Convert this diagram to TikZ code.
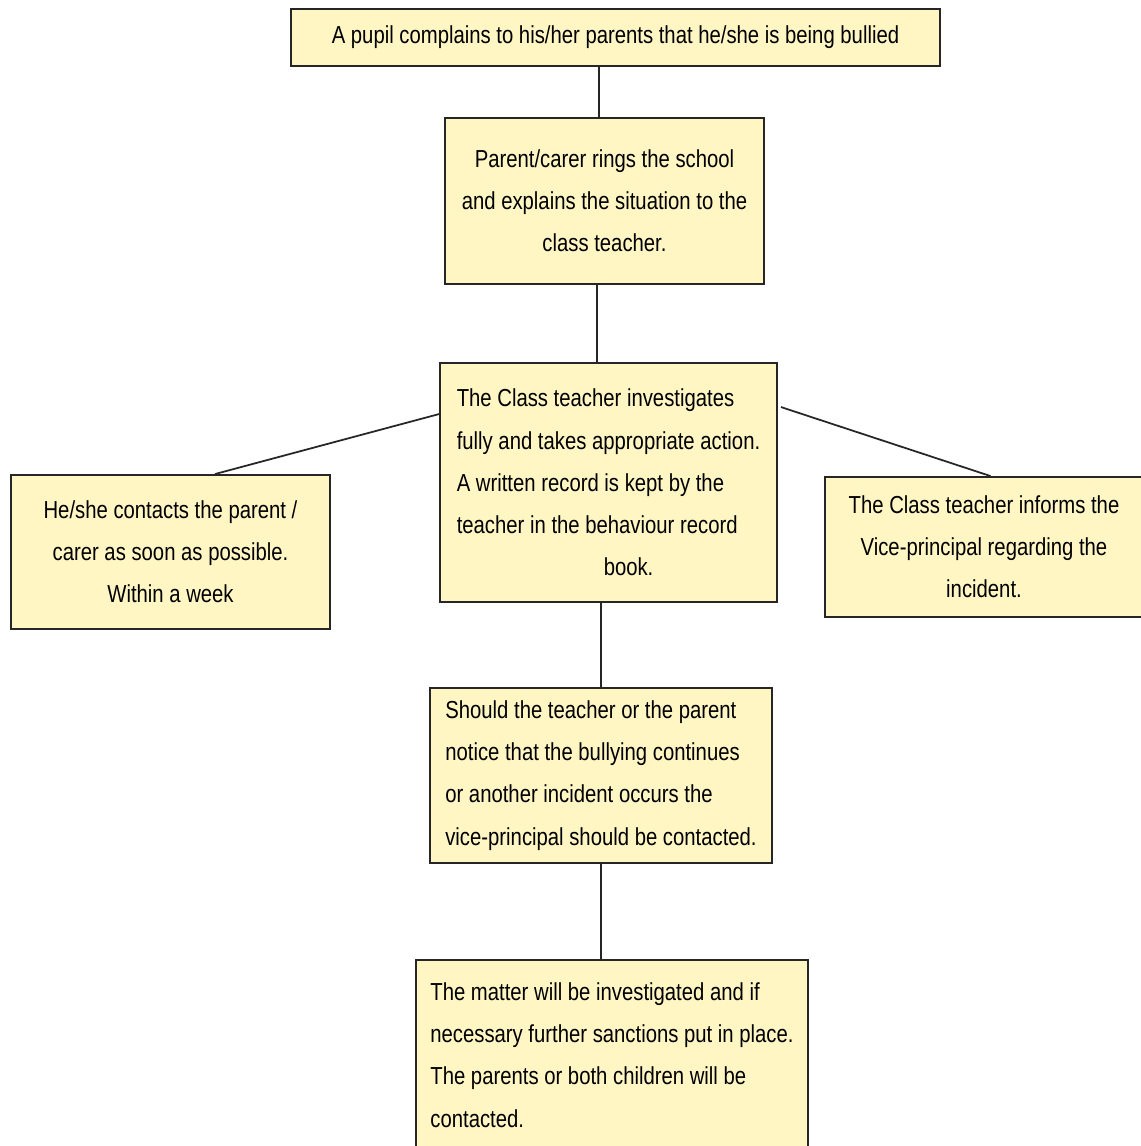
\documentclass[tikz,border=0pt]{standalone}
\usepackage{fontspec}
\setmainfont[FakeStretch=0.825]{Liberation Sans}
\definecolor{notefill}{HTML}{FFF6C4}
\begin{document}
\begin{tikzpicture}[x=0.02cm,y=-0.02cm,
	stepbox/.style={draw=black!85,line width=1.1pt,fill=notefill,inner sep=0pt,font=\fontsize{14}{24}\selectfont},
	link/.style={draw=black!85,line width=1pt}]
	\useasboundingbox (0,0) rectangle (1140,1146);
	
	\node[stepbox,minimum width=12.98cm,minimum height=1.14cm] (pupil) at (615.5,37.5) {A pupil complains to his/her parents that he/she is being bullied};
	\node[stepbox,minimum width=6.38cm,minimum height=3.32cm,align=center] (parent) at (604.5,201) {Parent/carer rings the school\\and explains the situation to the\\class teacher.};
	\node[stepbox,minimum width=6.74cm,minimum height=4.78cm,align=left] (teacher) at (608.5,482.5) {The Class teacher investigates\\fully and takes appropriate action.\\A written record is kept by the\\teacher in the behaviour record\\\hspace*{2.94cm}book.};
	\node[stepbox,minimum width=6.38cm,minimum height=3.08cm,align=center] (contact) at (170.5,552) {He/she contacts the parent /\\carer as soon as possible.\\Within a week};
	\node[stepbox,minimum width=6.36cm,minimum height=2.8cm,align=center] (inform) at (984,547) {The Class teacher informs the\\Vice-principal regarding the\\incident.};
	\node[stepbox,minimum width=6.84cm,minimum height=3.5cm,align=left] (should) at (601,775.5) {Should the teacher or the parent\\notice that the bullying continues\\or another incident occurs the\\vice-principal should be contacted.};
	\node[stepbox,minimum width=7.84cm,minimum height=3.8cm,align=left] (matter) at (612,1055) {The matter will be investigated and if\\necessary further sanctions put in place.\\The parents or both children will be\\contacted.};
	
	\draw[link] ([xshift=-0.11cm]parent.north) -- ([xshift=-0.11cm]parent.north |- pupil.south);
	\draw[link] ([xshift=-0.15cm]parent.south) -- ([xshift=-0.15cm]parent.south |- teacher.north);
	\draw[link] (should.north) -- (should.north |- teacher.south);
	\draw[link] (should.south) -- (should.south |- matter.north);
	\draw[link] ([yshift=-1.04cm]teacher.north west) -- ([xshift=0.89cm]contact.north);
	\draw[link] ([xshift=0.06cm,yshift=-0.9cm]teacher.north east) -- ([xshift=0.13cm]inform.north);
\end{tikzpicture}
\end{document}
